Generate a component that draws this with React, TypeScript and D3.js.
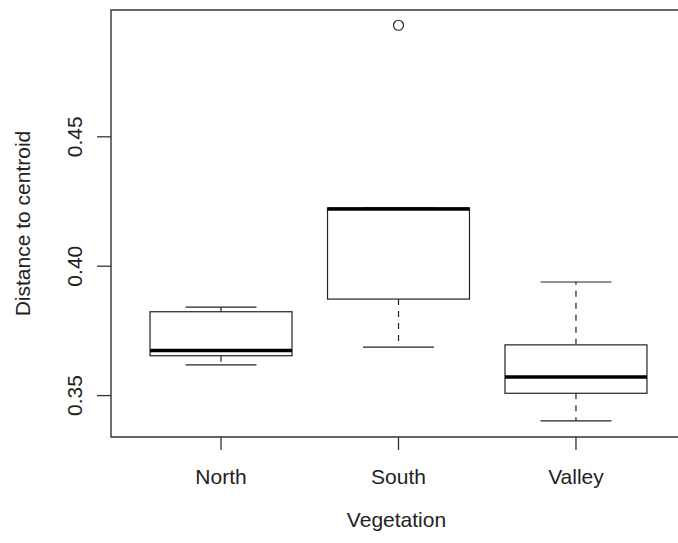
import { useEffect, useRef } from "react"
import * as d3 from "d3"

// box statistics
const categories = ["North", "South", "Valley"]
const lowerWhisker = [0.3619, 0.3687, 0.3402]
const q1 = [0.3654, 0.3873, 0.3509]
const median = [0.3674, 0.4221, 0.3572]
const q3 = [0.3824, 0.4225, 0.3696]
const upperWhisker = [0.3842, 0.4225, 0.3939]
const outliers: number[][] = [[], [0.4931], []]

const yTicks = [0.35, 0.40, 0.45]
const yTickLabels = ["0.35", "0.40", "0.45"]
const xTitle = "Vegetation"
const yTitle = "Distance to centroid"

const App = () => {
    const svgRef = useRef<SVGSVGElement>(null)
    const width = 678
    const height = 543

    useEffect(() => {
        const font = "'Liberation Sans', Arial, Helvetica, sans-serif"
        const ink = "#222"
        // the right side of the frame falls outside the picture
        const plot = { left: 111, right: 686, top: 10, bottom: 437 }

        const x = d3.scaleLinear().domain([0.38, 3.62]).range([plot.left, plot.right])
        const y = d3.scaleLinear().domain([0.334, 0.499]).range([plot.bottom, plot.top])
        const unit = x(2) - x(1)
        const boxW = unit * 0.8
        const capW = boxW * 0.5

        const svg = d3.select(svgRef.current)
        svg.selectAll("*").remove()

        svg.append("rect").attr("width", width).attr("height", height).attr("fill", "#fff")

        const boxes = svg.append("g")
        categories.forEach((c, i) => {
            const cx = x(i + 1)
            const g = boxes.append("g").attr("stroke", ink).attr("fill", "none")
            // whiskers
            g.append("line")
                .attr("x1", cx).attr("x2", cx)
                .attr("y1", y(q3[i])).attr("y2", y(upperWhisker[i]))
                .attr("stroke-width", 1.2).attr("stroke-dasharray", "6,6")
            g.append("line")
                .attr("x1", cx).attr("x2", cx)
                .attr("y1", y(q1[i])).attr("y2", y(lowerWhisker[i]))
                .attr("stroke-width", 1.2).attr("stroke-dasharray", "6,6")
            // staples
            g.append("line")
                .attr("x1", cx - capW / 2).attr("x2", cx + capW / 2)
                .attr("y1", y(upperWhisker[i])).attr("y2", y(upperWhisker[i]))
                .attr("stroke-width", 1.2)
            g.append("line")
                .attr("x1", cx - capW / 2).attr("x2", cx + capW / 2)
                .attr("y1", y(lowerWhisker[i])).attr("y2", y(lowerWhisker[i]))
                .attr("stroke-width", 1.2)
            // box
            g.append("rect")
                .attr("x", cx - boxW / 2).attr("width", boxW)
                .attr("y", y(q3[i])).attr("height", y(q1[i]) - y(q3[i]))
                .attr("fill", "#fff").attr("stroke-width", 1.2)
            // median
            g.append("line")
                .attr("x1", cx - boxW / 2).attr("x2", cx + boxW / 2)
                .attr("y1", y(median[i])).attr("y2", y(median[i]))
                .attr("stroke", "#000").attr("stroke-width", 3.6)
            outliers[i].forEach(v => {
                g.append("circle").attr("cx", cx).attr("cy", y(v)).attr("r", 5)
                    .attr("stroke-width", 1.2)
            })
        })

        // frame: left, top, bottom (right edge is cropped)
        svg.append("path")
            .attr("d", `M${plot.right},${plot.top}H${plot.left}V${plot.bottom}H${plot.right}`)
            .attr("fill", "none").attr("stroke", "#333").attr("stroke-width", 1.4)

        // y axis
        const ya = svg.append("g")
        yTicks.forEach((t, i) => {
            ya.append("line")
                .attr("x1", plot.left - 14).attr("x2", plot.left)
                .attr("y1", y(t)).attr("y2", y(t))
                .attr("stroke", "#333").attr("stroke-width", 1.3)
            ya.append("text")
                .attr("transform", `translate(82,${y(t)}) rotate(-90)`)
                .attr("text-anchor", "middle")
                .attr("font-family", font).attr("font-size", 21).attr("fill", ink)
                .text(yTickLabels[i])
        })

        // x axis
        const xa = svg.append("g")
        categories.forEach((c, i) => {
            xa.append("line")
                .attr("x1", x(i + 1)).attr("x2", x(i + 1))
                .attr("y1", plot.bottom).attr("y2", plot.bottom + 13)
                .attr("stroke", "#333").attr("stroke-width", 1.3)
            xa.append("text")
                .attr("x", x(i + 1)).attr("y", 484)
                .attr("text-anchor", "middle")
                .attr("font-family", font).attr("font-size", 21).attr("fill", ink)
                .text(c)
        })

        svg.append("text")
            .attr("x", (plot.left + plot.right) / 2 - 2).attr("y", 527)
            .attr("text-anchor", "middle")
            .attr("font-family", font).attr("font-size", 21).attr("fill", ink)
            .text(xTitle)

        svg.append("text")
            .attr("transform", `translate(30,${(plot.top + plot.bottom) / 2}) rotate(-90)`)
            .attr("text-anchor", "middle")
            .attr("font-family", font).attr("font-size", 21).attr("fill", ink)
            .text(yTitle)
    }, [])

    return (
        <svg
            ref={svgRef}
            width={width}
            height={height}
            style={{ position: "fixed", left: 0, top: 0, display: "block", overflow: "hidden" }}
        ></svg>
    )
}

export default App
